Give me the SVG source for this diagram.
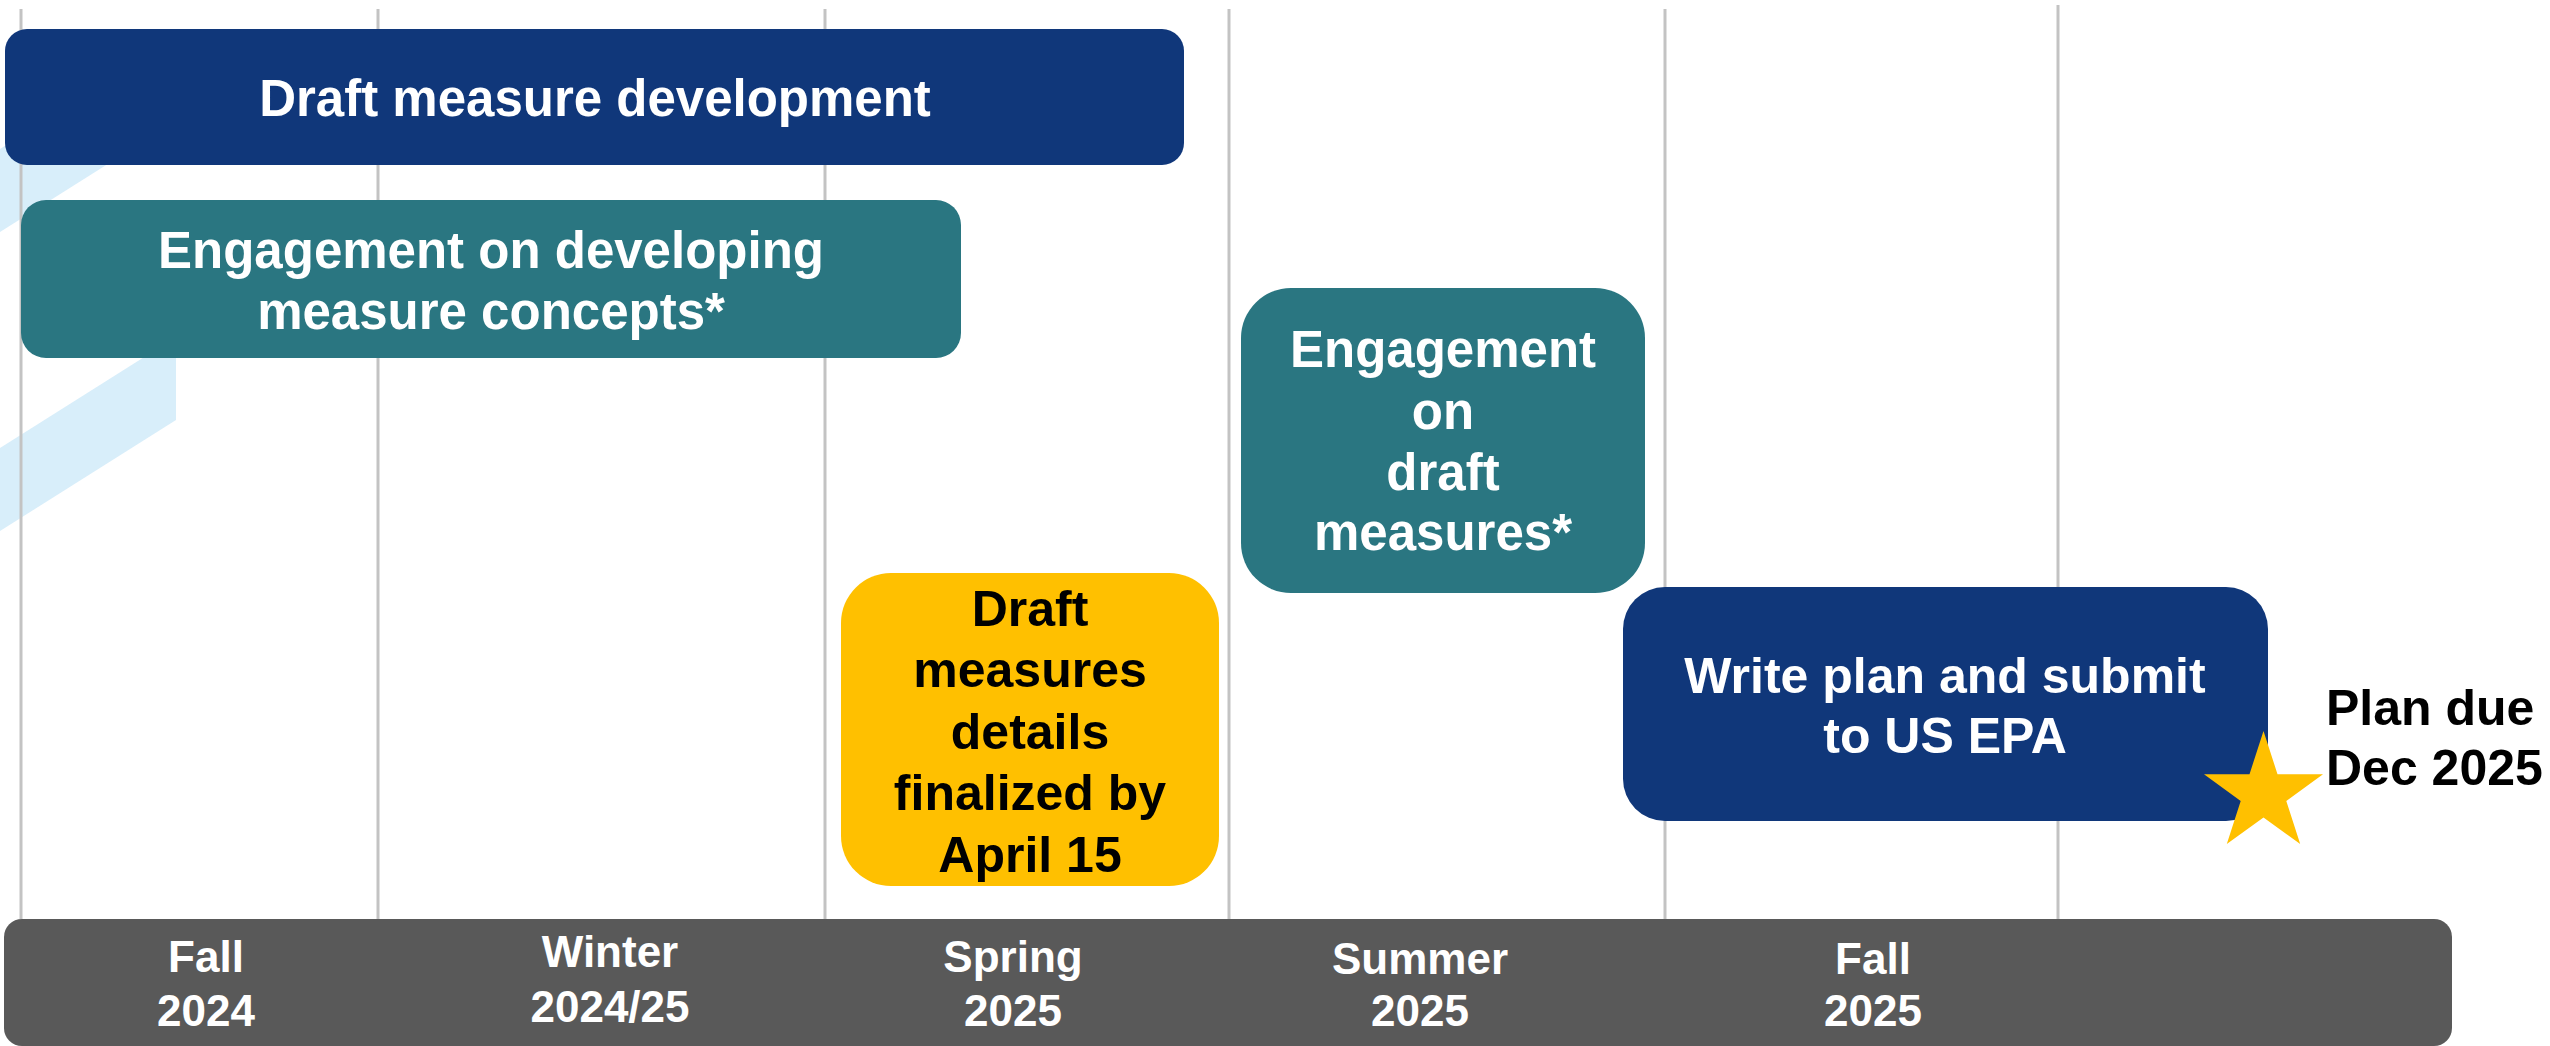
<svg xmlns="http://www.w3.org/2000/svg" width="2550" height="1046" viewBox="0 0 2550 1046">
  <style>
    text { font-family: "Liberation Sans", Arial, sans-serif; font-weight: bold; text-anchor: middle; }
    .w { fill: #FFFFFF; }
    .k { fill: #000000; }
    .t50 { font-size: 50px; }
    .t51 { font-size: 51px; }
    .t44 { font-size: 44px; }
    .grid { stroke: #C3C3C3; stroke-width: 3; }
    .navy { fill: #10377A; }
    .teal { fill: #2A7681; }
    .gold { fill: #FFC000; }
    .band { fill: #D8EEFA; }
  </style>
  <rect x="0" y="0" width="2550" height="1046" fill="#FFFFFF"/>

  <g id="background-ribbon">
    <polygon class="band" points="0,149 176,38 176,121 0,232"/>
    <polygon class="band" points="0,448 176,337 176,420 0,531"/>
  </g>

  <g id="gridlines">
    <line class="grid" x1="21" y1="9" x2="21" y2="919"/>
    <line class="grid" x1="378" y1="9" x2="378" y2="919"/>
    <line class="grid" x1="825" y1="9" x2="825" y2="919"/>
    <line class="grid" x1="1229" y1="9" x2="1229" y2="919"/>
    <line class="grid" x1="1665" y1="9" x2="1665" y2="919"/>
    <line class="grid" x1="2058" y1="5" x2="2058" y2="919"/>
  </g>

  <g id="connectors"/>

  <g id="draft-measure-development">
    <rect class="navy" x="5" y="29" width="1179" height="136" rx="22"/>
    <text class="w t51" x="595" y="116">Draft measure development</text>
  </g>

  <g id="engagement-concepts">
    <rect class="teal" x="21" y="200" width="940" height="158" rx="25"/>
    <text class="w t51" x="491" y="268">Engagement on developing</text>
    <text class="w t51" x="491" y="329">measure concepts*</text>
  </g>

  <g id="engagement-draft">
    <rect class="teal" x="1241" y="288" width="404" height="305" rx="50"/>
    <text class="w t51" x="1443" y="367">Engagement</text>
    <text class="w t51" x="1443" y="429">on</text>
    <text class="w t51" x="1443" y="490">draft</text>
    <text class="w t51" x="1443" y="550">measures*</text>
  </g>

  <g id="draft-finalized">
    <rect class="gold" x="841" y="573" width="378" height="313" rx="50"/>
    <text class="k t50" x="1030" y="626">Draft</text>
    <text class="k t50" x="1030" y="687">measures</text>
    <text class="k t50" x="1030" y="749">details</text>
    <text class="k t50" x="1030" y="810">finalized by</text>
    <text class="k t50" x="1030" y="872">April 15</text>
  </g>

  <g id="write-plan">
    <rect class="navy" x="1623" y="587" width="645" height="234" rx="42"/>
    <text class="w t50" x="1945" y="693">Write plan and submit</text>
    <text class="w t50" x="1945" y="753">to US EPA</text>
  </g>

  <g id="plan-due">
    <polygon class="gold" points="2263.5,731 2277.5,774.2 2323,774.2 2286.3,800.9 2300.2,844 2263.5,817.4 2226.8,844 2240.7,800.9 2204,774.2 2249.5,774.2"/>
    <text class="k t50" x="2326" y="725" style="text-anchor:start">Plan due</text>
    <text class="k t50" x="2326" y="785" style="text-anchor:start">Dec 2025</text>
  </g>

  <g id="timeline-axis">
    <rect x="4" y="919" width="2448" height="127" rx="18" fill="#595959"/>
    <text class="w t44" x="206" y="972">Fall</text>
    <text class="w t44" x="206" y="1026">2024</text>
    <text class="w t44" x="610" y="967">Winter</text>
    <text class="w t44" x="610" y="1022">2024/25</text>
    <text class="w t44" x="1013" y="972">Spring</text>
    <text class="w t44" x="1013" y="1026">2025</text>
    <text class="w t44" x="1420" y="974">Summer</text>
    <text class="w t44" x="1420" y="1026">2025</text>
    <text class="w t44" x="1873" y="974">Fall</text>
    <text class="w t44" x="1873" y="1026">2025</text>
  </g>
</svg>
